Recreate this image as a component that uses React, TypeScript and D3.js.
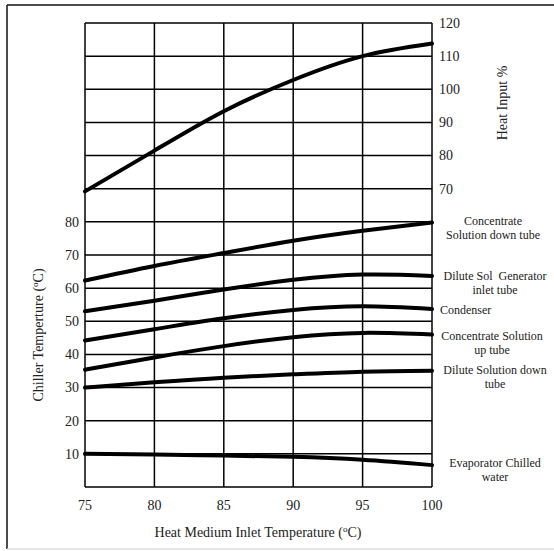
import React, { useEffect, useRef } from "react";
import * as d3 from "d3";

// x values (heat medium inlet temperature, °C)
const inletTemps = [75, 80, 85, 90, 95, 100];

// chiller temperatures (°C), left axis
const concDownTube = [62.3, 66.7, 70.6, 74.3, 77.3, 79.8];
const diluteGenInlet = [53.0, 56.2, 59.6, 62.5, 64.1, 63.7];
const condenser = [44.2, 47.6, 50.9, 53.4, 54.5, 53.7];
const concUpTube = [35.4, 39.1, 42.5, 45.2, 46.5, 46.0];
const diluteDownTube = [30.0, 31.6, 33.0, 34.0, 34.8, 35.1];
const evaporator = [10.0, 9.8, 9.5, 9.1, 8.2, 6.6];

// heat input %, right axis
const heatInput = [69.2, 81.5, 93.4, 102.8, 110.0, 113.8];

const leftTicks = [10, 20, 30, 40, 50, 60, 70, 80];
const rightTicks = [70, 80, 90, 100, 110, 120];
const xTicks = [75, 80, 85, 90, 95, 100];

// labels at the right end of each curve
const curveLabels = [
  { lines: ["Concentrate", "Solution down tube"], y: [221, 235], anchor: "middle", x: 493 },
  { lines: ["Dilute Sol  Generator", "inlet tube"], y: [276, 290], anchor: "middle", x: 495 },
  { lines: ["Condenser"], y: [310], anchor: "start", x: 440 },
  { lines: ["Concentrate Solution", "up tube"], y: [336, 350], anchor: "middle", x: 492 },
  { lines: ["Dilute Solution down", "tube"], y: [370, 384], anchor: "middle", x: 495 },
  { lines: ["Evaporator Chilled", "water"], y: [463, 477], anchor: "middle", x: 495 },
];

export default function App() {
  const ref = useRef<SVGSVGElement>(null);

  useEffect(() => {
    const svg = d3.select(ref.current);
    svg.selectAll("*").remove();
    const font = "'Liberation Serif', 'Times New Roman', serif";

    const x = d3.scaleLinear().domain([75, 100]).range([85, 432]);
    const y = d3.scaleLinear().domain([0, 140]).range([487, 23]);
    const yRight = d3.scaleLinear().domain([-20, 120]).range([487, 23]);

    // outer frame
    svg.append("line").attr("x1", 7).attr("x2", 554).attr("y1", 5).attr("y2", 5)
      .attr("stroke", "#111").attr("stroke-width", 1.5);
    svg.append("line").attr("x1", 7).attr("x2", 7).attr("y1", 5).attr("y2", 549)
      .attr("stroke", "#111").attr("stroke-width", 1.5);
    svg.append("line").attr("x1", 7).attr("x2", 554).attr("y1", 549).attr("y2", 549)
      .attr("stroke", "#ddd").attr("stroke-width", 1.5);

    // grid
    const g = svg.append("g");
    d3.range(0, 141, 10).forEach((v) => {
      g.append("line").attr("x1", x(75)).attr("x2", x(100))
        .attr("y1", y(v)).attr("y2", y(v))
        .attr("stroke", "#000").attr("stroke-width", 1.5);
    });
    xTicks.forEach((v) => {
      g.append("line").attr("x1", x(v)).attr("x2", x(v))
        .attr("y1", y(0)).attr("y2", y(140))
        .attr("stroke", "#000").attr("stroke-width", 1.5);
    });

    // tick labels
    leftTicks.forEach((v) => {
      svg.append("text").attr("x", 79).attr("y", y(v)).attr("dy", "0.35em")
        .attr("text-anchor", "end").attr("font-family", font).attr("font-size", 14)
        .attr("fill", "#222").text(v);
    });
    rightTicks.forEach((v) => {
      svg.append("text").attr("x", 439).attr("y", yRight(v)).attr("dy", "0.35em")
        .attr("text-anchor", "start").attr("font-family", font).attr("font-size", 14)
        .attr("fill", "#222").text(v);
    });
    xTicks.forEach((v) => {
      svg.append("text").attr("x", x(v)).attr("y", 505).attr("dy", "0.35em")
        .attr("text-anchor", "middle").attr("font-family", font).attr("font-size", 14)
        .attr("fill", "#222").text(v);
    });

    // axis titles
    const degTitle = (sel: any, before: string) => {
      sel.append("tspan").text(before);
      sel.append("tspan").attr("baseline-shift", "super").attr("font-size", 9).text("o");
      sel.append("tspan").text("C)");
    };
    const xt = svg.append("text").attr("x", 258).attr("y", 537)
      .attr("text-anchor", "middle").attr("font-family", font).attr("font-size", 14).attr("fill", "#222");
    degTitle(xt, "Heat Medium Inlet Temperature (");
    const yt = svg.append("text").attr("transform", "translate(43,335) rotate(-90)")
      .attr("text-anchor", "middle").attr("font-family", font).attr("font-size", 14).attr("fill", "#222");
    degTitle(yt, "Chiller Temperture (");
    svg.append("text").attr("transform", "translate(507,103) rotate(-90)")
      .attr("text-anchor", "middle").attr("font-family", font).attr("font-size", 14)
      .attr("fill", "#222").text("Heat Input %");

    // curves
    const line = d3.line<[number, number]>()
      .x((d) => x(d[0]))
      .y((d) => y(d[1]))
      .curve(d3.curveNatural);
    const lineRight = d3.line<[number, number]>()
      .x((d) => x(d[0]))
      .y((d) => yRight(d[1]))
      .curve(d3.curveNatural);

    const series = [concDownTube, diluteGenInlet, condenser, concUpTube, diluteDownTube, evaporator];
    series.forEach((s) => {
      const pts = inletTemps.map((t, i) => [t, s[i]] as [number, number]);
      svg.append("path").attr("d", line(pts)).attr("fill", "none")
        .attr("stroke", "#000").attr("stroke-width", 4).attr("stroke-linecap", "round");
    });
    const hp = inletTemps.map((t, i) => [t, heatInput[i]] as [number, number]);
    svg.append("path").attr("d", lineRight(hp)).attr("fill", "none")
      .attr("stroke", "#000").attr("stroke-width", 4).attr("stroke-linecap", "round");

    // curve labels
    curveLabels.forEach((c) => {
      c.lines.forEach((l, i) => {
        svg.append("text").attr("x", c.x).attr("y", c.y[i]).attr("dy", "0.35em")
          .attr("text-anchor", c.anchor).attr("font-family", font).attr("font-size", 12)
          .attr("fill", "#222").attr("xml:space", "preserve").style("white-space", "pre").text(l);
      });
    });
  }, []);

  return (
    <div style={{ position: "absolute", left: 0, top: 0, background: "#fff" }}>
      <svg ref={ref} width={554} height={551} style={{ display: "block" }}></svg>
    </div>
  );
}
